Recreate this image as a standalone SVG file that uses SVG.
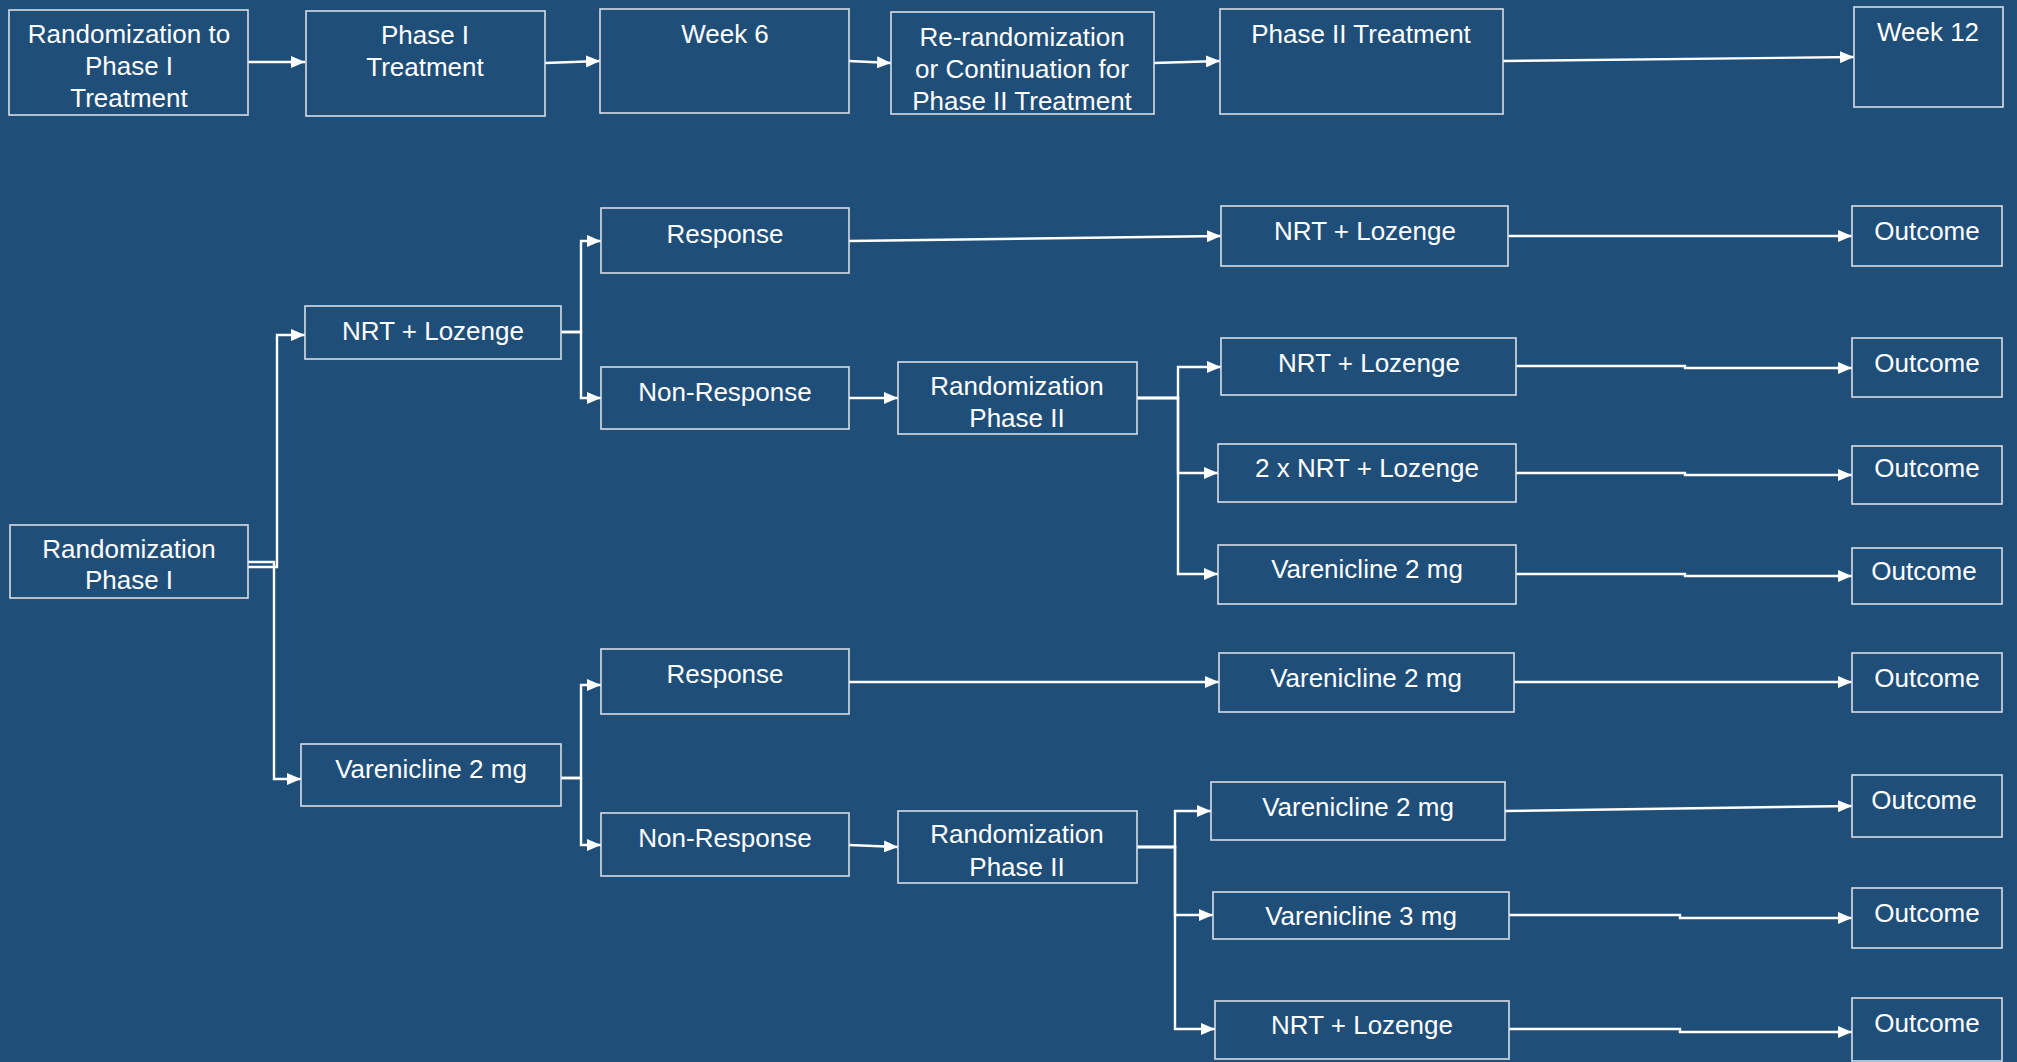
<svg xmlns="http://www.w3.org/2000/svg" width="2017" height="1062" viewBox="0 0 2017 1062">
<defs>
<marker id="ah" viewBox="0 0 14 12" refX="14" refY="6" markerWidth="14" markerHeight="12" markerUnits="userSpaceOnUse" orient="auto">
<path d="M0,0 L14,6 L0,12 z" fill="#ffffff"/>
</marker>
<style>
.box{fill:#1f4e79;stroke:#d6dde8;stroke-width:1.6}
.t{font-family:"Liberation Sans",Arial,sans-serif;font-size:26px;fill:#ffffff;text-anchor:middle}
.c{fill:none;stroke:#ffffff;stroke-width:2.4;marker-end:url(#ah)}
</style>
</defs>
<rect x="0" y="0" width="2017" height="1062" fill="#1f4e79"/>

<g id="connectors">
<path class="c" d="M248,62 L305,62"/>
<path class="c" d="M545,63 L600,61"/>
<path class="c" d="M849,61 L891,63"/>
<path class="c" d="M1154,63 L1220,61"/>
<path class="c" d="M1503,61 L1854,57"/>

<path class="c" d="M248,567 L277,567 L277,335 L305,335"/>
<path class="c" d="M248,562 L274,562 L274,779 L301,779"/>

<path class="c" d="M561,332 L581,332 L581,241 L601,241"/>
<path class="c" d="M561,332 L581,332 L581,398 L601,398"/>
<path class="c" d="M849,241 L1221,236"/>
<path class="c" d="M849,398 L898,398"/>
<path class="c" d="M1137,398 L1178,398 L1178,367 L1221,367"/>
<path class="c" d="M1137,398 L1178,398 L1178,473 L1218,473"/>
<path class="c" d="M1137,398 L1178,398 L1178,574 L1218,574"/>
<path class="c" d="M1508,236 L1852,236"/>
<path class="c" d="M1516,366 L1685,366 L1685,368 L1852,368"/>
<path class="c" d="M1516,473 L1685,473 L1685,475 L1852,475"/>
<path class="c" d="M1516,574 L1685,574 L1685,576 L1852,576"/>

<path class="c" d="M561,778 L581,778 L581,685 L601,685"/>
<path class="c" d="M561,778 L581,778 L581,845 L601,845"/>
<path class="c" d="M849,682 L1219,682"/>
<path class="c" d="M849,845 L898,847"/>
<path class="c" d="M1137,847 L1175,847 L1175,811 L1211,811"/>
<path class="c" d="M1137,847 L1175,847 L1175,915 L1213,915"/>
<path class="c" d="M1137,847 L1175,847 L1175,1029 L1215,1029"/>
<path class="c" d="M1514,682 L1852,682"/>
<path class="c" d="M1505,811 L1852,806"/>
<path class="c" d="M1509,915 L1680,915 L1680,918 L1852,918"/>
<path class="c" d="M1509,1029 L1680,1029 L1680,1032 L1852,1032"/>
</g>

<g id="n-rand-to-phase1"><rect class="box" x="9" y="10" width="239" height="105"/>
<text class="t" x="129" y="43">Randomization to</text><text class="t" x="129" y="75">Phase I</text><text class="t" x="129" y="107">Treatment</text></g>
<g id="n-phase1-treatment"><rect class="box" x="306" y="11" width="239" height="105"/>
<text class="t" x="425" y="44">Phase I</text><text class="t" x="425" y="76">Treatment</text></g>
<g id="n-week6"><rect class="box" x="600" y="9" width="249" height="104"/>
<text class="t" x="725" y="43">Week 6</text></g>
<g id="n-rerand"><rect class="box" x="891" y="12" width="263" height="102"/>
<text class="t" x="1022" y="46">Re-randomization</text><text class="t" x="1022" y="78">or Continuation for</text><text class="t" x="1022" y="110">Phase II Treatment</text></g>
<g id="n-phase2-treatment"><rect class="box" x="1220" y="9" width="283" height="105"/>
<text class="t" x="1361" y="43">Phase II Treatment</text></g>
<g id="n-week12"><rect class="box" x="1854" y="7" width="149" height="100"/>
<text class="t" x="1928" y="41">Week 12</text></g>

<g id="n-rand-phase1"><rect class="box" x="10" y="525" width="238" height="73"/>
<text class="t" x="129" y="558">Randomization</text><text class="t" x="129" y="589">Phase I</text></g>
<g id="n-nrt-p1"><rect class="box" x="305" y="306" width="256" height="53"/>
<text class="t" x="433" y="340">NRT + Lozenge</text></g>
<g id="n-var-p1"><rect class="box" x="301" y="744" width="260" height="62"/>
<text class="t" x="431" y="778">Varenicline 2 mg</text></g>

<g id="n-response1"><rect class="box" x="601" y="208" width="248" height="65"/>
<text class="t" x="725" y="243">Response</text></g>
<g id="n-nonresponse1"><rect class="box" x="601" y="367" width="248" height="62"/>
<text class="t" x="725" y="401">Non-Response</text></g>
<g id="n-rand-phase2a"><rect class="box" x="898" y="362" width="239" height="72"/>
<text class="t" x="1017" y="395">Randomization</text><text class="t" x="1017" y="427">Phase II</text></g>

<g id="n-nrt-r1"><rect class="box" x="1221" y="206" width="287" height="60"/>
<text class="t" x="1365" y="240">NRT + Lozenge</text></g>
<g id="n-nrt-r2"><rect class="box" x="1221" y="338" width="295" height="57"/>
<text class="t" x="1369" y="372">NRT + Lozenge</text></g>
<g id="n-2xnrt"><rect class="box" x="1218" y="444" width="298" height="58"/>
<text class="t" x="1367" y="477">2 x NRT + Lozenge</text></g>
<g id="n-var-r3"><rect class="box" x="1218" y="545" width="298" height="59"/>
<text class="t" x="1367" y="578">Varenicline 2 mg</text></g>

<g id="n-out1"><rect class="box" x="1852" y="206" width="150" height="60"/>
<text class="t" x="1927" y="240">Outcome</text></g>
<g id="n-out2"><rect class="box" x="1852" y="338" width="150" height="59"/>
<text class="t" x="1927" y="372">Outcome</text></g>
<g id="n-out3"><rect class="box" x="1852" y="446" width="150" height="58"/>
<text class="t" x="1927" y="477">Outcome</text></g>
<g id="n-out4"><rect class="box" x="1852" y="548" width="150" height="56"/>
<text class="t" x="1924" y="580">Outcome</text></g>

<g id="n-response2"><rect class="box" x="601" y="649" width="248" height="65"/>
<text class="t" x="725" y="683">Response</text></g>
<g id="n-nonresponse2"><rect class="box" x="601" y="813" width="248" height="63"/>
<text class="t" x="725" y="847">Non-Response</text></g>
<g id="n-rand-phase2b"><rect class="box" x="898" y="811" width="239" height="72"/>
<text class="t" x="1017" y="843">Randomization</text><text class="t" x="1017" y="876">Phase II</text></g>

<g id="n-var-resp"><rect class="box" x="1219" y="653" width="295" height="59"/>
<text class="t" x="1366" y="687">Varenicline 2 mg</text></g>
<g id="n-var-r4"><rect class="box" x="1211" y="782" width="294" height="58"/>
<text class="t" x="1358" y="816">Varenicline 2 mg</text></g>
<g id="n-var3"><rect class="box" x="1213" y="892" width="296" height="47"/>
<text class="t" x="1361" y="925">Varenicline 3 mg</text></g>
<g id="n-nrt-last"><rect class="box" x="1215" y="1001" width="294" height="58"/>
<text class="t" x="1362" y="1034">NRT + Lozenge</text></g>

<g id="n-out5"><rect class="box" x="1852" y="653" width="150" height="59"/>
<text class="t" x="1927" y="687">Outcome</text></g>
<g id="n-out6"><rect class="box" x="1852" y="775" width="150" height="62"/>
<text class="t" x="1924" y="809">Outcome</text></g>
<g id="n-out7"><rect class="box" x="1852" y="888" width="150" height="60"/>
<text class="t" x="1927" y="922">Outcome</text></g>
<g id="n-out8"><rect class="box" x="1852" y="998" width="150" height="63"/>
<text class="t" x="1927" y="1032">Outcome</text></g>
</svg>
